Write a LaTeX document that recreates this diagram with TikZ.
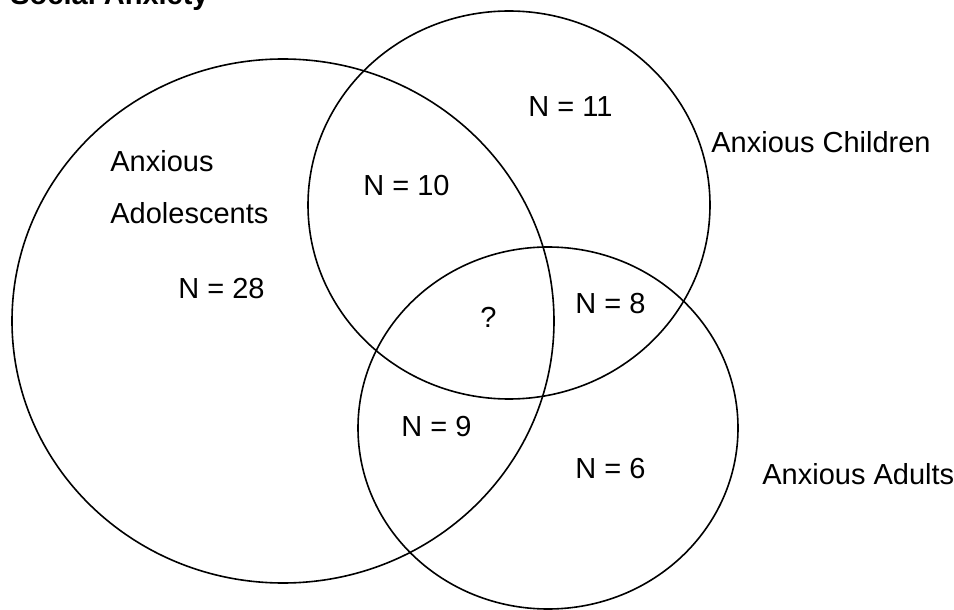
\documentclass[tikz,border=0pt]{standalone}
\usepackage{fontspec}
\setmainfont{Liberation Sans}
\begin{document}
\begin{tikzpicture}[x=0.5pt,y=-0.5pt,
  setring/.style={draw=black,line width=0.8pt},
  lbl/.style={anchor=base west,inner sep=0pt,font=\fontsize{14.5pt}{17pt}\selectfont},
  ttl/.style={anchor=base west,inner sep=0pt,font=\fontsize{14.5pt}{17pt}\selectfont\bfseries}]
\useasboundingbox (0,0) rectangle (954,610);
\clip (0,0) rectangle (954,610);
\draw[setring] (283,321) ellipse [x radius=271, y radius=262];
\draw[setring] (509,205) ellipse [x radius=201, y radius=194];
\draw[setring] (548,428) ellipse [x radius=190, y radius=181];
\node[ttl] (title) at (10,5) {Social Anxiety};
\node[lbl] (ado1) at (110,172) {Anxious};
\node[lbl] (ado2) at (110,223) {Adolescents};
\node[lbl] (n28) at (178,298) {N = 28};
\node[lbl] (n11) at (528,117) {N = 11};
\node[lbl] (n10) at (363,196) {N = 10};
\node[lbl] (q) at (480,327) {?};
\node[lbl] (n8) at (575,313) {N = 8};
\node[lbl] (n9) at (401,436) {N = 9};
\node[lbl] (n6) at (575,478) {N = 6};
\node[lbl] (child) at (711,153) {Anxious Children};
\node[lbl] (adult) at (762,484) {Anxious Adults};
\end{tikzpicture}
\end{document}
